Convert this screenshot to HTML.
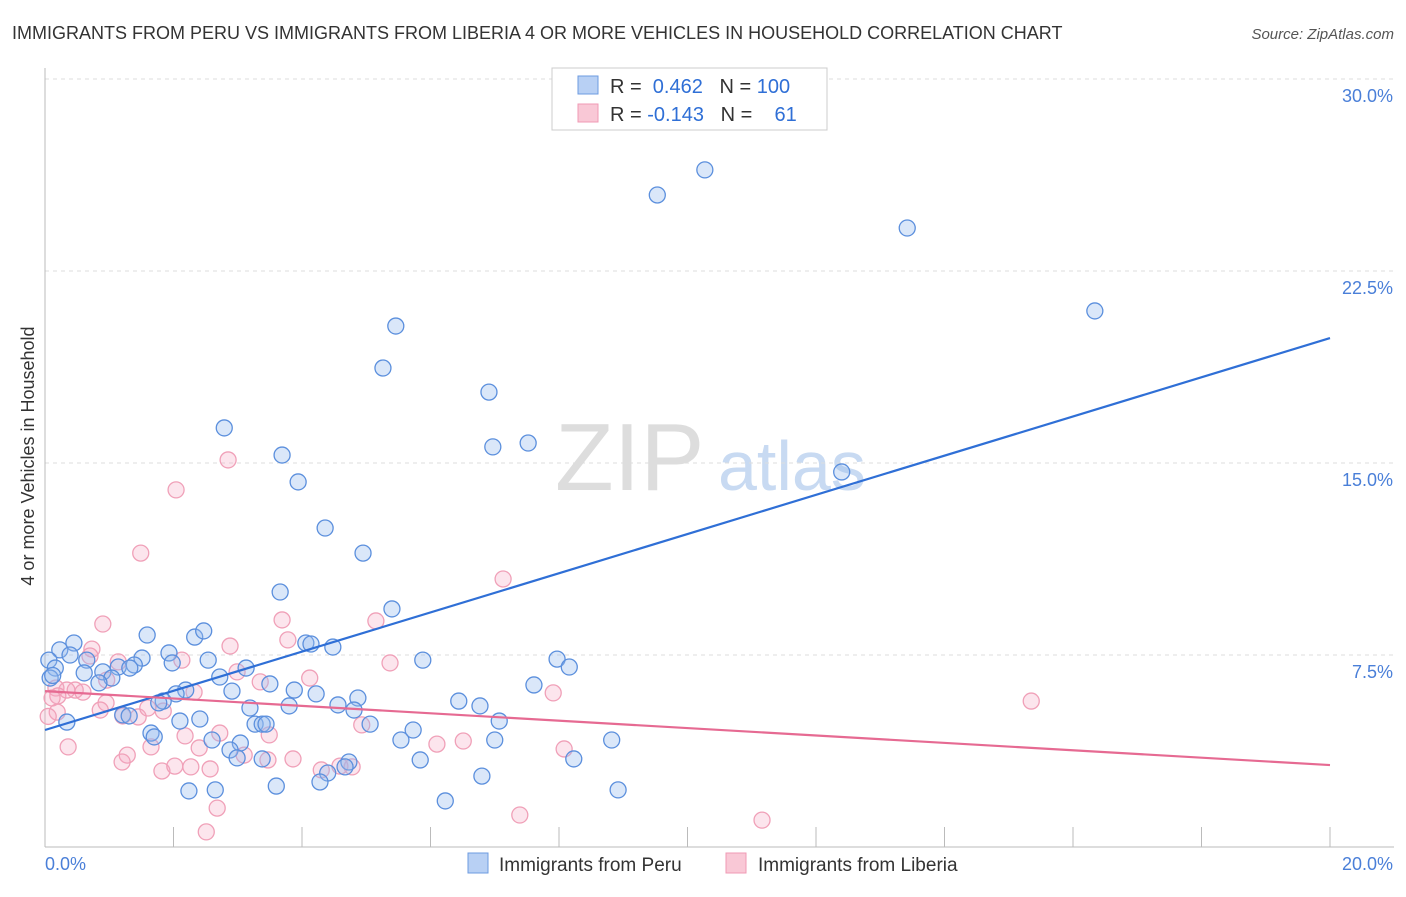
<!DOCTYPE html>
<html><head><meta charset="utf-8">
<style>
body{margin:0;background:#fff;font-family:"Liberation Sans",sans-serif;}
svg text{font-family:"Liberation Sans",sans-serif;}
</style></head>
<body>
<svg id="chart" width="1406" height="892" viewBox="0 0 1406 892">
<text x="12" y="39" font-size="18" fill="#333">IMMIGRANTS FROM PERU VS IMMIGRANTS FROM LIBERIA 4 OR MORE VEHICLES IN HOUSEHOLD CORRELATION CHART</text>
<text x="1394" y="39" font-size="15" fill="#555" font-style="italic" text-anchor="end">Source: ZipAtlas.com</text>
<text transform="translate(34,456) rotate(-90)" font-size="18" fill="#333" text-anchor="middle">4 or more Vehicles in Household</text>
<g>
<text x="555" y="490" font-size="96" fill="#ddd" font-family="Liberation Serif,serif">ZIP</text>
<text x="718" y="490" font-size="70" fill="#c8daf2">atlas</text>
</g>
<g id="grid"></g>
<g id="axes"></g>
<g id="lines"></g>
<g id="points"></g>
<g>
<rect x="552" y="68" width="275" height="62" fill="#fff" stroke="#ccc"/>
<rect x="578" y="76" width="20" height="18" fill="#b8d0f4" stroke="#6d9be0"/>
<rect x="578" y="104" width="20" height="18" fill="#f9c8d6" stroke="#f09ab4"/>
<text x="610" y="93" font-size="20" fill="#333">R = <tspan fill="#2f6fd6">&#160;0.462</tspan><tspan fill="#333">&#160;&#160;&#160;N = </tspan><tspan fill="#2f6fd6">100</tspan></text>
<text x="610" y="121" font-size="20" fill="#333">R = <tspan fill="#2f6fd6">-0.143</tspan><tspan fill="#333">&#160;&#160;&#160;N = </tspan><tspan fill="#2f6fd6">&#160;&#160;&#160;61</tspan></text>
</g>
<g>
<rect x="468" y="853" width="20" height="20" fill="#b8d0f4" stroke="#6d9be0"/>
<text x="499" y="871" font-size="19" fill="#333">Immigrants from Peru</text>
<rect x="726" y="853" width="20" height="20" fill="#f9c8d6" stroke="#f09ab4"/>
<text x="758" y="871" font-size="19" fill="#333">Immigrants from Liberia</text>
</g>
</svg>
<script>
const peruX=[10.27,9.53,13.42,16.34,5.46,5.26,6.91,2.79,6.97,7.52,12.40,3.69,3.94,4.36,4.95,3.66,5.40,1.59,2.33,2.47,1.93,2.54,1.98,4.06,4.14,4.48,5.88,7.97,8.16,0.45,0.23,0.39,0.65,1.51,1.39,1.14,1.32,0.90,2.72,3.13,0.06,0.16,0.08,0.61,1.04,0.84,2.19,2.04,1.84,1.77,2.91,3.50,3.88,4.22,4.87,3.80,3.19,4.56,4.81,6.44,6.77,7.61,1.21,1.31,2.41,2.10,0.34,3.27,3.38,3.44,5.06,7.07,1.65,1.70,3.04,2.60,2.88,2.99,5.54,5.73,7.00,8.82,3.38,4.73,4.67,5.84,8.23,4.40,4.28,6.80,2.24,2.65,3.60,6.23,8.92,0.12];
const peruY=[26.45,25.47,24.18,20.94,20.35,18.71,17.77,16.37,15.63,15.78,14.65,15.31,14.26,12.46,11.48,9.96,9.30,8.28,8.20,8.44,7.58,7.30,7.19,7.97,7.93,7.81,7.30,7.34,7.03,7.97,7.70,7.50,7.30,7.38,7.11,7.03,6.99,6.84,6.64,6.99,7.30,6.99,6.60,6.80,6.60,6.41,6.13,5.98,5.70,5.63,6.09,6.37,6.13,5.98,5.82,5.51,5.43,5.55,5.35,5.70,5.51,6.33,5.16,5.12,5.00,4.92,4.88,4.80,4.80,4.80,4.80,4.92,4.45,4.30,4.06,4.18,3.79,3.48,4.18,4.57,4.18,4.18,3.44,3.32,3.13,3.40,3.44,2.89,2.54,2.77,2.19,2.23,2.38,1.80,2.23,6.70];
const liberiaX=[2.85,2.04,1.49,7.13,0.90,0.73,0.70,3.69,2.88,3.78,5.15,5.37,4.12,1.14,0.96,0.47,0.34,0.59,0.17,0.20,0.11,2.32,2.13,2.99,3.35,7.91,15.35,1.84,1.45,1.60,1.21,0.95,0.36,1.28,1.65,2.18,2.72,3.49,3.10,2.40,3.47,3.86,4.93,6.10,6.51,8.08,1.20,1.82,2.02,2.27,2.57,4.30,4.59,4.78,2.68,7.39,11.16,2.51,0.19,0.86,0.05];
const liberiaY=[15.12,13.95,11.48,10.47,8.71,7.73,7.46,8.87,7.85,8.09,8.83,7.19,6.60,7.23,6.52,6.13,6.13,6.05,6.21,5.90,5.82,6.05,7.30,6.84,6.45,6.02,5.70,5.31,5.08,5.43,5.12,5.63,3.91,3.59,3.91,4.34,4.45,4.38,3.59,3.87,3.40,3.44,4.77,4.02,4.14,3.83,3.32,2.97,3.16,3.13,3.05,3.01,3.16,3.13,1.52,1.25,1.05,0.59,5.27,5.35,5.10];
const yTicks=[7.5,15.0,22.5,30.0];
const yTickLabels=["7.5%","15.0%","22.5%","30.0%"];
const xTicks=[0,2,4,6,8,10,12,14,16,18,20];
const peruTrend=[4.57,19.88];
const liberiaTrend=[6.09,3.2];

const NS="http://www.w3.org/2000/svg";
const X=v=>45+v*64.25;
const Y=v=>847-v*25.6;
function mk(tag,attrs,parent){const e=document.createElementNS(NS,tag);for(const k in attrs)e.setAttribute(k,attrs[k]);parent.appendChild(e);return e;}
const grid=document.getElementById('grid'),axes=document.getElementById('axes'),lines=document.getElementById('lines'),pts=document.getElementById('points');
yTicks.forEach((t,i)=>{
 const l=mk('line',{x1:45,x2:1394,y1:Y(t),y2:Y(t),stroke:'#ddd','stroke-dasharray':'4,4'},grid);
 
 
 const tx=mk('text',{x:1393,y:Y(t)+23,'font-size':18,fill:'#4a7fd8','text-anchor':'end'},axes);
 tx.textContent=yTickLabels[i];
 
 
});
const ax=mk('line',{x1:45,x2:1394,y1:847,y2:847,stroke:'#bbb'},axes);


const ay=mk('line',{x1:45,x2:45,y1:68,y2:847,stroke:'#bbb'},axes);


xTicks.forEach(t=>{
 const tk=mk('line',{x1:X(t),x2:X(t),y1:827,y2:847,stroke:'#bbb'},axes);
 
 
});
const xl0=mk('text',{x:45,y:870,'font-size':18,fill:'#4a7fd8'},axes);
xl0.textContent=xTicks[0].toFixed(1)+'%';


const xl1=mk('text',{x:1393,y:870,'font-size':18,fill:'#4a7fd8','text-anchor':'end'},axes);
xl1.textContent=xTicks[xTicks.length-1].toFixed(1)+'%';



function drawPts(xs,ys,fill,stroke,name){
 xs.forEach((x,i)=>{
  const c=mk('circle',{cx:X(x),cy:Y(ys[i]),r:8,fill:fill,stroke:stroke,'stroke-width':1.3},pts);
  
  
 });
}
drawPts(liberiaX,liberiaY,'rgba(246,170,195,0.3)','#f0a0b8','liberia-point');
drawPts(peruX,peruY,'rgba(150,185,238,0.35)','#5b8fdd','peru-point');
const bl=mk('line',{x1:X(0),y1:Y(peruTrend[0]),x2:X(20),y2:Y(peruTrend[1]),stroke:'#2f6fd6','stroke-width':2.2},lines);


const pl=mk('line',{x1:X(0),y1:Y(liberiaTrend[0]),x2:X(20),y2:Y(liberiaTrend[1]),stroke:'#e66a92','stroke-width':2.2},lines);


document.getElementById('chart').appendChild(lines);
</script>
</body></html>
